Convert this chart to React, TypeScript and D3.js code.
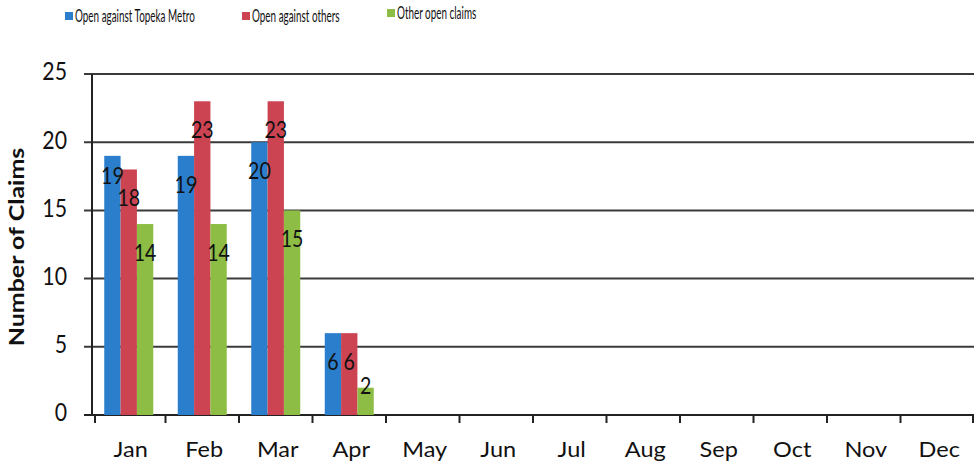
import * as d3 from "d3"

const months = ["Jan", "Feb", "Mar", "Apr", "May", "Jun", "Jul", "Aug", "Sep", "Oct", "Nov", "Dec"]
const seriesNames = ["Open against Topeka Metro", "Open against others", "Other open claims"]
const seriesColors = ["#2b7ecb", "#cc4352", "#8dbd44"]
const topekaMetro = [19, 19, 20, 6]
const againstOthers = [18, 23, 23, 6]
const otherOpen = [14, 14, 15, 2]
const yTicks = [0, 5, 10, 15, 20, 25]

const W = 978
const H = 466
const margin = { top: 74, right: 4, bottom: 51, left: 92 }
const FONT = "Lato, 'Open Sans', sans-serif"
const SX = 0.85

export default function App() {
  const series = [topekaMetro, againstOthers, otherOpen]

  const x = d3.scaleBand<string>()
    .domain(months)
    .range([margin.left, W - margin.right])
    .paddingInner(0)
    .paddingOuter(0)

  const xSub = d3.scaleBand<number>()
    .domain([0, 1, 2])
    .range([0, x.bandwidth()])
    .paddingInner(0)
    .paddingOuter(0.75)

  const y = d3.scaleLinear()
    .domain([0, 25])
    .range([H - margin.bottom, margin.top])

  const y0 = y(0)
  const legendX = [65, 242, 387]

  // label sits inside the bar top; nudged up when it would land on the neighbour's label
  const labelY = (si: number, mi: number) => {
    const base = (v: number) => Math.min(y(v) + 31, y0 - 27)
    const v = series[si][mi]
    const own = base(v)
    const nv = series[si + 1] ? series[si + 1][mi] : null
    if (nv !== null && nv !== v) {
      const next = base(nv)
      if (Math.abs(next - own) < 22) return next - 22
    }
    return own
  }

  // squeezed text, like the scanned original
  const txt = (x0: number, y0: number, s: string | number, size: number, anchor = "middle", sx = SX) => (
    <text
      transform={`translate(${x0},${y0}) scale(${sx},1)`}
      textAnchor={anchor}
      dominantBaseline="middle"
      fontSize={size}
      fontFamily={FONT}
      fill="#111"
    >{s}</text>
  )

  return (
    <svg width={W} height={H} style={{ position: "absolute", left: 0, top: 0, background: "#fff" }}>
      {/* legend */}
      {seriesNames.map((name, i) => (
        <g key={name}>
          <rect x={legendX[i]} y={i === 2 ? 9 : 12} width={8} height={8} fill={seriesColors[i]} />
          <text
            transform={`translate(${legendX[i] + 10},${i === 2 ? 14 : 17}) scale(0.55,1)`}
            dominantBaseline="middle"
            fontSize={18}
            fontFamily={FONT}
            fill="#111"
          >{name}</text>
        </g>
      ))}

      {/* gridlines + y ticks */}
      {yTicks.map(t => (
        <g key={t}>
          <line x1={margin.left - 8} x2={W - margin.right} y1={y(t)} y2={y(t)}
            stroke={t === 0 ? "#222" : "#3a3a3a"} strokeWidth={2} />
          {txt(margin.left - 25, y(t), t, 25, "end")}
        </g>
      ))}

      {/* y axis line */}
      <line x1={margin.left} x2={margin.left} y1={y(25)} y2={y0} stroke="#222" strokeWidth={2} />

      {/* x ticks */}
      {months.map((m, i) => (
        <line key={"t" + m} x1={x(m)! + (i === 0 ? 3 : 0)} x2={x(m)! + (i === 0 ? 3 : 0)} y1={y0} y2={y0 + 8} stroke="#222" strokeWidth={2} />
      ))}
      <line x1={W - margin.right - 1} x2={W - margin.right - 1} y1={y0} y2={y0 + 8} stroke="#222" strokeWidth={2} />

      {/* bars */}
      {series.map((vals, si) => vals.map((v, mi) => (
        <rect key={`b${si}-${mi}`}
          x={x(months[mi])! + xSub(si)!}
          y={y(v)}
          width={xSub.bandwidth()}
          height={y0 - y(v)}
          fill={seriesColors[si]} />
      )))}

      {/* value labels */}
      {series.map((vals, si) => vals.map((v, mi) => (
        <g key={`l${si}-${mi}`}>
          {txt(x(months[mi])! + xSub(si)! + xSub.bandwidth() / 2, labelY(si, mi), v, 23)}
        </g>
      )))}

      {/* month labels */}
      {months.map(m => (
        <text key={"m" + m}
          transform={`translate(${x(m)! + x.bandwidth() / 2 + 2},457) scale(1.12,1)`}
          textAnchor="middle"
          fontSize={21}
          fontFamily={FONT}
          fill="#111"
        >{m}</text>
      ))}

      {/* y title */}
      <text
        transform={`translate(19,247) scale(0.8,1) rotate(-90)`}
        textAnchor="middle"
        dominantBaseline="middle"
        fontSize={25}
        fontWeight="bold"
        fontFamily={FONT}
        fill="#111"
      >Number of Claims</text>
    </svg>
  )
}
